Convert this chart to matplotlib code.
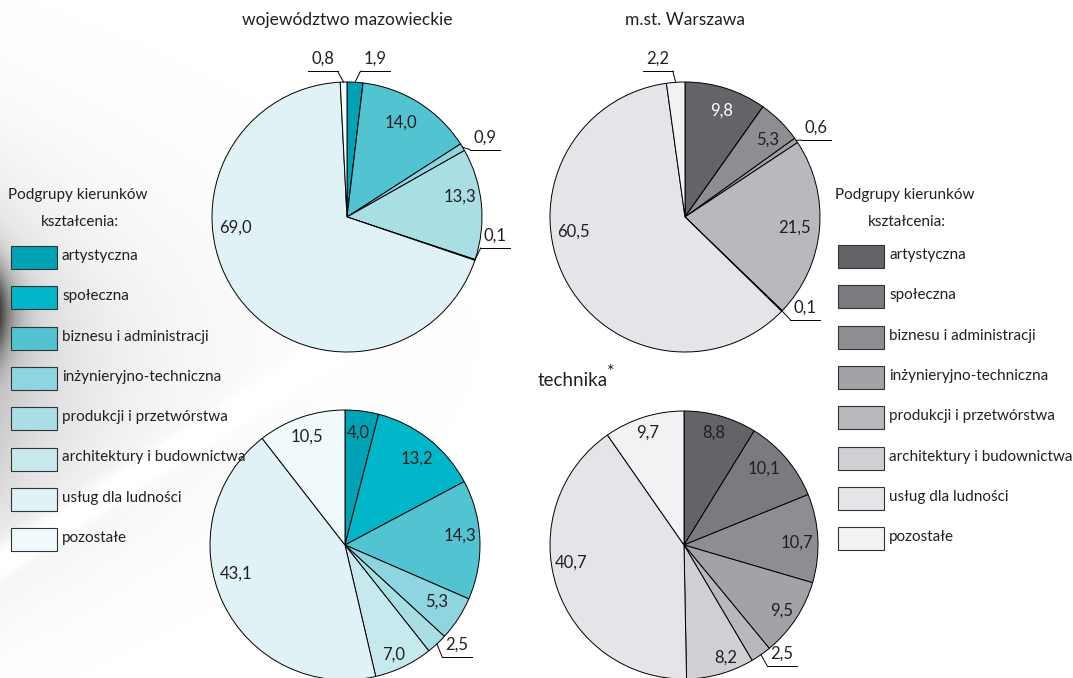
import numpy as np
import matplotlib
matplotlib.use('Agg')
import matplotlib.pyplot as plt
from matplotlib.patches import Rectangle

plt.rcParams['font.family'] = ['Lato', 'DejaVu Sans']

W, H = 1073, 678

categories = ['artystyczna', 'społeczna', 'biznesu i administracji',
              'inżynieryjno-techniczna', 'produkcji i przetwórstwa',
              'architektury i budownictwa', 'usług dla ludności', 'pozostałe']

# shares in % (ogółem / technika)
maz_all = [1.9, 0.0, 14.0, 0.9, 13.3, 0.1, 69.0, 0.8]
waw_all = [9.8, 0.0, 5.3, 0.6, 21.5, 0.1, 60.5, 2.2]
maz_tech = [4.0, 13.2, 14.3, 5.3, 2.5, 7.0, 43.1, 10.5]
waw_tech = [8.8, 10.1, 10.7, 9.5, 2.5, 8.2, 40.7, 9.7]

teal = ['#00a2b5', '#00b6c9', '#52c3d0', '#8ed5df', '#aadee5',
        '#c6e9ee', '#e0f2f6', '#f0f9fc']
gray = ['#636468', '#7a7b7f', '#8d8e92', '#a2a3a7', '#b8b9bd',
        '#cfd0d3', '#e4e5e8', '#f1f2f4']

TXT = '#231f20'

# label placement in pie units (radius = 1); None = no label
pos_maz_all = [(0.21, 1.17), None, (0.40, 0.70), (1.02, 0.59), (0.84, 0.15),
               (1.1, -0.14), (-0.83, -0.08), (-0.18, 1.17)]
pos_waw_all = [(0.27, 0.79), None, (0.61, 0.57), (0.97, 0.66), (0.81, -0.08),
               (0.89, -0.67), (-0.83, -0.11), (-0.2, 1.17)]
pos_maz_tech = [(0.10, 0.83), (0.53, 0.64), (0.85, 0.07), (0.68, -0.42),
                (0.83, -0.74), (0.36, -0.81), (-0.81, -0.21), (-0.28, 0.80)]
pos_waw_tech = [(0.22, 0.84), (0.60, 0.57), (0.84, 0.02), (0.73, -0.49),
                (0.73, -0.81), (0.31, -0.84), (-0.84, -0.13), (-0.27, 0.84)]


def px_axes(fig, cx, cy, r):
    ax = fig.add_axes([(cx - r) / W, 1 - (cy + r) / H, 2 * r / W, 2 * r / H])
    ax.axis('off')
    return ax


def fmt(v):
    return ('%.1f' % v).replace('.', ',')


def draw_pie(ax, vals, colors, pos, outer, white_idx=()):
    wedges, _ = ax.pie(vals, colors=colors, startangle=90, counterclock=False,
                       radius=1.0, normalize=True,
                       wedgeprops=dict(edgecolor='black', linewidth=0.7))
    ax.set_xlim(-1, 1)
    ax.set_ylim(-1, 1)
    ax.set_aspect('equal')
    for i, w in enumerate(wedges):
        w.set_clip_on(False)
        if pos[i] is None:
            continue
        tx, ty = pos[i]
        col = 'white' if i in white_idx else TXT
        ax.text(tx, ty, fmt(vals[i]), ha='center', va='center',
                fontsize=12, color=col, clip_on=False)
        if i in outer:
            mid = np.deg2rad((w.theta1 + w.theta2) / 2)
            ex, ey = np.cos(mid), np.sin(mid)
            uy = ty - 0.09
            ux = tx - 0.11 if tx > ex else tx + 0.11
            ax.plot([tx - 0.11, tx + 0.11], [uy, uy], color='black', lw=0.7,
                    clip_on=False)
            ax.plot([ex, ux], [ey, uy], color='black', lw=0.7, clip_on=False)


def draw_legend(fig, x0, y0, colors):
    fig.text((x0 + 67) / W, 1 - 195 / H, 'Podgrupy kierunków', ha='center',
             va='center', fontsize=11, color=TXT)
    fig.text((x0 + 69) / W, 1 - 222 / H, 'kształcenia:', ha='center',
             va='center', fontsize=11, color=TXT)
    for i, (lab, c) in enumerate(zip(categories, colors)):
        yt = y0 + i * 40.3
        fig.add_artist(Rectangle((x0 / W, 1 - (yt + 23) / H), 46 / W, 23 / H,
                                 transform=fig.transFigure, facecolor=c,
                                 edgecolor='#333333', linewidth=0.8))
        fig.text((x0 + 51) / W, 1 - (yt + 10) / H, lab, ha='left',
                 va='center', fontsize=11, color=TXT)


fig = plt.figure(figsize=(W / 100, H / 100), dpi=100)
fig.patch.set_facecolor('white')

# faint grey swoosh in the background
bg = fig.add_axes([0, 0, 1, 1], zorder=-10)
yy, xx = np.mgrid[0:H:2, 0:W:2].astype(float)
streak = (yy - (560 - 0.635 * xx)) / 1.18
dark = 0.55 * np.exp(-xx / 14.0) * np.exp(-((yy - 310) / 45.0) ** 2)
dark += 0.15 * np.exp(-xx / 80.0) * np.exp(-((yy - 390) / 150.0) ** 2)
dark += 0.07 * np.exp(-xx / 160.0) * np.exp(-((yy - 330) / 200.0) ** 2)
dark -= 0.10 * np.exp(-(streak / 14.0) ** 2) * np.exp(-xx / 250.0)
dark = np.clip(dark, 0, 1)
bg.imshow(1 - dark, cmap='gray', vmin=0, vmax=1, aspect='auto',
          extent=[0, W, H, 0], interpolation='bilinear')
bg.axis('off')

ax1 = px_axes(fig, 347, 217, 135)
draw_pie(ax1, maz_all, teal, pos_maz_all, (0, 3, 5, 7))
ax2 = px_axes(fig, 685, 217, 135)
draw_pie(ax2, waw_all, gray, pos_waw_all, (3, 5, 7), white_idx=(0,))
ax3 = px_axes(fig, 345, 545, 135)
draw_pie(ax3, maz_tech, teal, pos_maz_tech, (4,))
ax4 = px_axes(fig, 684, 545, 134)
draw_pie(ax4, waw_tech, gray, pos_waw_tech, (4,))

fig.text(347 / W, 1 - 20 / H, 'województwo mazowieckie', ha='center',
         va='center', fontsize=12.5, color=TXT)
fig.text(685 / W, 1 - 20 / H, 'm.st. Warszawa', ha='center', va='center',
         fontsize=12.5, color=TXT)
fig.text(608 / W, 1 - 381 / H, 'technika', ha='right', va='center',
         fontsize=13.5, color=TXT)
fig.text(607 / W, 1 - 372 / H, '*', ha='left', va='center', fontsize=13,
         color=TXT)

draw_legend(fig, 11, 246, teal)
draw_legend(fig, 838, 245, gray)

fig.savefig('out.png', dpi=100)
